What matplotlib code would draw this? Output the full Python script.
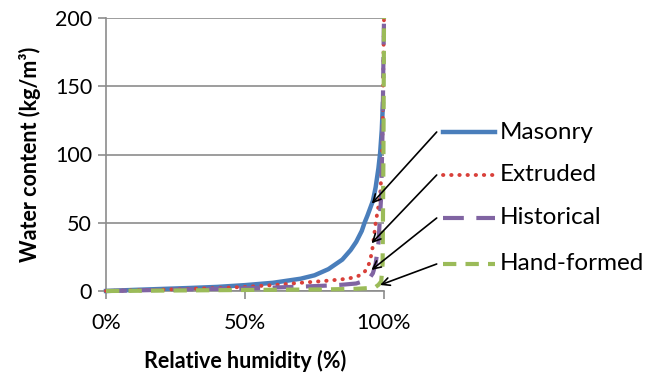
import numpy as np
import matplotlib
matplotlib.use("Agg")
import matplotlib.pyplot as plt
from matplotlib.lines import Line2D

plt.rcParams['font.family'] = ['Lato', 'DejaVu Sans']

# data (RH in %, water content in kg/m3)
masonry_rh = [0, 10, 20, 30, 40, 50, 60, 70, 75, 80, 85, 88, 90, 92, 93, 94, 96, 97, 98, 98.6, 99.2, 99.6]
masonry_w = [0, 0.8, 1.5, 2.2, 3.0, 4.3, 6, 9, 11.5, 16, 23, 30, 36, 44, 50, 55, 66, 76, 90, 101, 118, 137]

extruded_rh = [0, 20, 40, 50, 60, 70, 80, 85, 88, 90, 92, 93, 94, 95, 96, 97, 98, 98.6, 99.2, 99.6, 99.8, 100]
extruded_w = [0, 1, 2.2, 3, 4.3, 6, 7.6, 8.6, 9.5, 10.5, 12, 14, 17, 22, 33, 50, 62, 70, 90, 130, 170, 200]

historical_rh = [0, 20, 40, 60, 70, 80, 85, 90, 93, 95, 96, 97, 98, 99, 99.5, 99.8, 100]
historical_w = [0, 0.8, 1.6, 2.5, 3.2, 4, 4.6, 5.5, 7.5, 10, 13, 20, 35, 70, 120, 170, 200]

handformed_rh = [0, 20, 40, 60, 80, 90, 95, 97, 98, 99, 99.5, 99.8, 100]
handformed_w = [0, 0.3, 0.6, 0.9, 1.2, 1.6, 2.2, 3, 4.5, 7, 20, 100, 200]

labels = ['Masonry', 'Extruded', 'Historical', 'Hand-formed']
y_ticks = [0, 50, 100, 150, 200]
x_ticks = [0, 50, 100]
x_tick_labels = ['0%', '50%', '100%']

# where each arrow points on its curve (RH, water content)
arrow_tips = [(95.6, 64), (95.5, 35), (95.5, 15.4), (98.6, 4.4)]

W, H = 645, 381
fig = plt.figure(figsize=(W / 100, H / 100), dpi=100)
ax = fig.add_axes([106 / W, 1 - 291 / H, (384 - 106) / W, (291 - 18) / H])

styles = [
    dict(color='#4A7EBB', lw=3.2, ls='-'),
    dict(color='#D9403A', lw=2.8, ls=(0, (0.1, 2.0)), dash_capstyle='round'),
    dict(color='#8064A2', lw=3.0, ls=(0, (5, 3))),
    dict(color='#9BBB59', lw=3.0, ls=(0, (3.2, 2.2))),
]
series = [(masonry_rh, masonry_w), (extruded_rh, extruded_w),
          (historical_rh, historical_w), (handformed_rh, handformed_w)]

for (rh, w), st in zip(series, styles):
    ax.plot(rh, w, clip_on=False, zorder=3, **st)

ax.set_xlim(0, 100)
ax.set_ylim(0, 200)
ax.set_xticks(x_ticks)
ax.set_xticklabels(x_tick_labels)
ax.set_yticks(y_ticks)
ax.grid(axis='y', color='#8C8C8C', lw=1.2)
ax.set_axisbelow(True)
for s in ['top', 'right']:
    ax.spines[s].set_visible(False)
for s in ['left', 'bottom']:
    ax.spines[s].set_color('#8C8C8C')
    ax.spines[s].set_linewidth(1.2)
ax.tick_params(axis='both', direction='out', length=6, width=1.2, color='#8C8C8C',
               labelsize=15.5, pad=4)
ax.tick_params(axis='x', pad=10)

ax.set_xlabel('Relative humidity (%)', fontsize=15.5, fontweight='bold', labelpad=12)
ax.set_ylabel('Water content (kg/m³)', fontsize=15.5, fontweight='bold', labelpad=10)

# legend drawn by hand, with arrows to the curves
row_y = [132, 175, 218, 264]
for (tip, yy, st, lab) in zip(arrow_tips, row_y, styles, labels):
    fy = 1 - yy / H
    fig.add_artist(Line2D([443 / W, 495 / W], [fy, fy], **st))
    fig.text(500 / W, fy, lab, fontsize=17.5, va='center', ha='left')
    ax.annotate('', xy=tip, xycoords='data',
                xytext=(436.7 / W, fy), textcoords='figure fraction',
                arrowprops=dict(arrowstyle='->', color='black', lw=1.2,
                                mutation_scale=14, shrinkA=0, shrinkB=0),
                annotation_clip=False, zorder=5)

fig.savefig('out.png', dpi=100)
